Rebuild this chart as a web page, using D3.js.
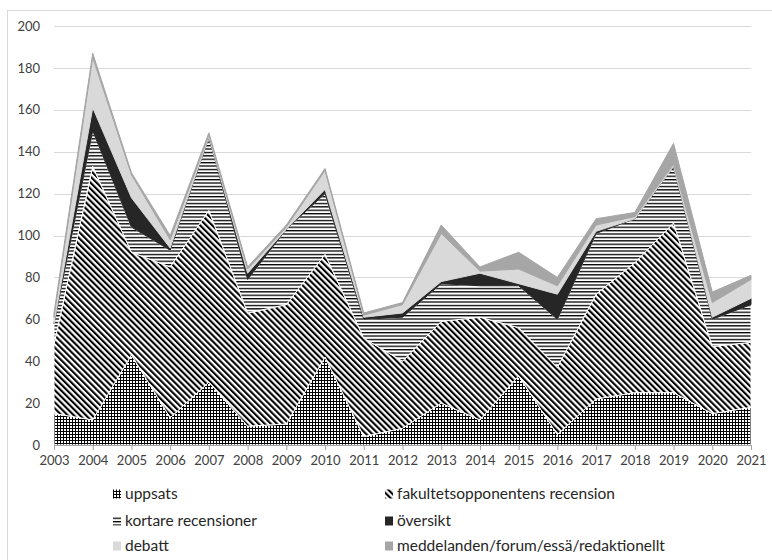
<!DOCTYPE html>
<html>
<head>
<meta charset="utf-8">
<script src="https://cdn.jsdelivr.net/npm/d3@7"></script>
<style>
  body { margin: 0; background: #fff; }
  text { font-family: Lato, "Open Sans", sans-serif; }
</style>
</head>
<body>
<div id="chart"></div>
<script>
// data
const years = [2003, 2004, 2005, 2006, 2007, 2008, 2009, 2010, 2011, 2012,
               2013, 2014, 2015, 2016, 2017, 2018, 2019, 2020, 2021];
const uppsats   = [15, 12, 43, 13, 30, 9, 10, 42, 4, 8, 20, 12, 33, 5, 22, 25, 25, 15, 18];
const fakultet  = [33, 121, 49, 72, 82, 54, 57, 49, 47, 32, 39, 49, 23, 32, 50, 62, 81, 32, 31];
const kortare   = [10, 17, 12, 8, 35, 16, 36, 29, 9, 21, 18, 15, 20, 23, 29, 21, 27, 13, 18];
const oversikt  = [0, 11, 14, 1, 0, 3, 0, 2, 1, 2, 1, 6, 1, 12, 1, 0, 0, 1, 3];
const debatt    = [3, 24, 11, 4, 1, 2, 1, 9, 1, 4, 23, 1, 7, 4, 3, 1, 1, 7, 9];
const meddelanden = [2, 2, 1, 2, 1, 1, 1, 1, 1, 1, 4, 2, 8, 4, 3, 2, 10, 5, 2];
const yTicks = [0, 20, 40, 60, 80, 100, 120, 140, 160, 180, 200];

const keys = ["uppsats", "fakultet", "kortare", "oversikt", "debatt", "meddelanden"];
const labels = {
    uppsats: "uppsats",
    fakultet: "fakultetsopponentens recension",
    kortare: "kortare recensioner",
    oversikt: "översikt",
    debatt: "debatt",
    meddelanden: "meddelanden/forum/essä/redaktionellt"
};
const series = { uppsats, fakultet, kortare, oversikt, debatt, meddelanden };

const table = years.map(function (yr, i) {
    const row = { year: yr };
    keys.forEach(function (k) { row[k] = series[k][i]; });
    return row;
});

const W = 772, H = 560;
const margin = { top: 26, right: 21, bottom: 115, left: 54 },
    width = W - margin.left - margin.right,
    height = H - margin.top - margin.bottom;

const svg = d3.select("#chart").append("svg")
    .attr("width", W)
    .attr("height", H);

// patterns
const defs = svg.append("defs");

const grid = defs.append("pattern").attr("id", "p-grid")
    .attr("patternUnits", "userSpaceOnUse").attr("width", 3).attr("height", 3);
grid.append("rect").attr("width", 3).attr("height", 3).attr("fill", "#fff");
grid.append("rect").attr("x", 0).attr("y", 0).attr("width", 1).attr("height", 3).attr("fill", "#000");
grid.append("rect").attr("x", 0).attr("y", 0).attr("width", 3).attr("height", 1).attr("fill", "#000");

const diag = defs.append("pattern").attr("id", "p-diag")
    .attr("patternUnits", "userSpaceOnUse").attr("width", 4.3).attr("height", 4.3)
    .attr("patternTransform", "rotate(-45)");
diag.append("rect").attr("width", 4.3).attr("height", 4.3).attr("fill", "#fff");
diag.append("rect").attr("width", 2.1).attr("height", 4.3).attr("fill", "#000");

const horiz = defs.append("pattern").attr("id", "p-horiz")
    .attr("patternUnits", "userSpaceOnUse").attr("width", 4).attr("height", 3.4);
horiz.append("rect").attr("width", 4).attr("height", 3.4).attr("fill", "#fff");
horiz.append("rect").attr("width", 4).attr("height", 1.3).attr("fill", "#000");

const fills = {
    uppsats: "url(#p-grid)",
    fakultet: "url(#p-diag)",
    kortare: "url(#p-horiz)",
    oversikt: "#262626",
    debatt: "#d9d9d9",
    meddelanden: "#a6a6a6"
};
const strokes = {
    uppsats: "#fff",
    fakultet: "#fff",
    kortare: "#fff",
    oversikt: "#262626",
    debatt: "#d9d9d9",
    meddelanden: "#a6a6a6"
};

// outer border
svg.append("rect")
    .attr("x", 7.5).attr("y", 10.5)
    .attr("width", W - 7).attr("height", H - 5)
    .attr("fill", "none").attr("stroke", "#d9d9d9");

const g = svg.append("g")
    .attr("transform", "translate(" + margin.left + "," + margin.top + ")");

const x = d3.scaleLinear()
    .domain(d3.extent(years))
    .range([0, width]);

const y = d3.scaleLinear()
    .domain([0, 200])
    .range([height, 0]);

// gridlines
g.append("g")
    .selectAll("line")
    .data(yTicks.filter(function (d) { return d > 0; }))
    .enter().append("line")
    .attr("x1", 0).attr("x2", width)
    .attr("y1", function (d) { return Math.round(y(d)) + 0.5; })
    .attr("y2", function (d) { return Math.round(y(d)) + 0.5; })
    .attr("stroke", "#d9d9d9");

// stacked areas
const stacked = d3.stack().keys(keys)(table);
const area = d3.area()
    .x(function (d) { return x(d.data.year); })
    .y0(function (d) { return y(d[0]); })
    .y1(function (d) { return y(d[1]); });

g.selectAll(".layer")
    .data(stacked.slice().reverse())
    .enter().append("path")
    .attr("class", "layer")
    .attr("d", area)
    .attr("fill", function (d) { return fills[d.key]; })
    .attr("stroke", function (d) { return strokes[d.key]; })
    .attr("stroke-width", 1)
    .attr("stroke-linejoin", "miter");

// lower layers first, upper outlines on top
g.selectAll(".layer").sort(function (a, b) {
    return keys.indexOf(a.key) - keys.indexOf(b.key);
});

// y axis
const yAxis = g.append("g")
    .call(d3.axisLeft(y).tickValues(yTicks).tickSize(0).tickPadding(14));
yAxis.select(".domain").remove();
yAxis.selectAll("text")
    .attr("fill", "#404040")
    .style("font-size", "13px");

// x axis
const xAxis = g.append("g")
    .attr("transform", "translate(0," + height + ")")
    .call(d3.axisBottom(x).tickValues(years).tickFormat(d3.format("d")).tickSize(5).tickPadding(6));
xAxis.select(".domain").attr("stroke", "#a6a6a6");
xAxis.selectAll(".tick line").attr("stroke", "#a6a6a6");
xAxis.selectAll("text")
    .attr("fill", "#404040")
    .style("font-size", "13px");

// legend
const legend = svg.append("g");
const legX = [113, 385], legY = [494, 521, 546];
keys.forEach(function (k, i) {
    const col = i % 2, row = Math.floor(i / 2);
    const item = legend.append("g")
        .attr("transform", "translate(" + legX[col] + "," + legY[row] + ")");
    item.append("rect")
        .attr("x", 0).attr("y", -4.5)
        .attr("width", 8).attr("height", 9)
        .attr("fill", fills[k]);
    item.append("text")
        .attr("x", 12).attr("y", 0)
        .attr("dy", "0.35em")
        .attr("fill", "#262626")
        .style("font-size", "15.5px")
        .text(labels[k]);
});
</script>
</body>
</html>
